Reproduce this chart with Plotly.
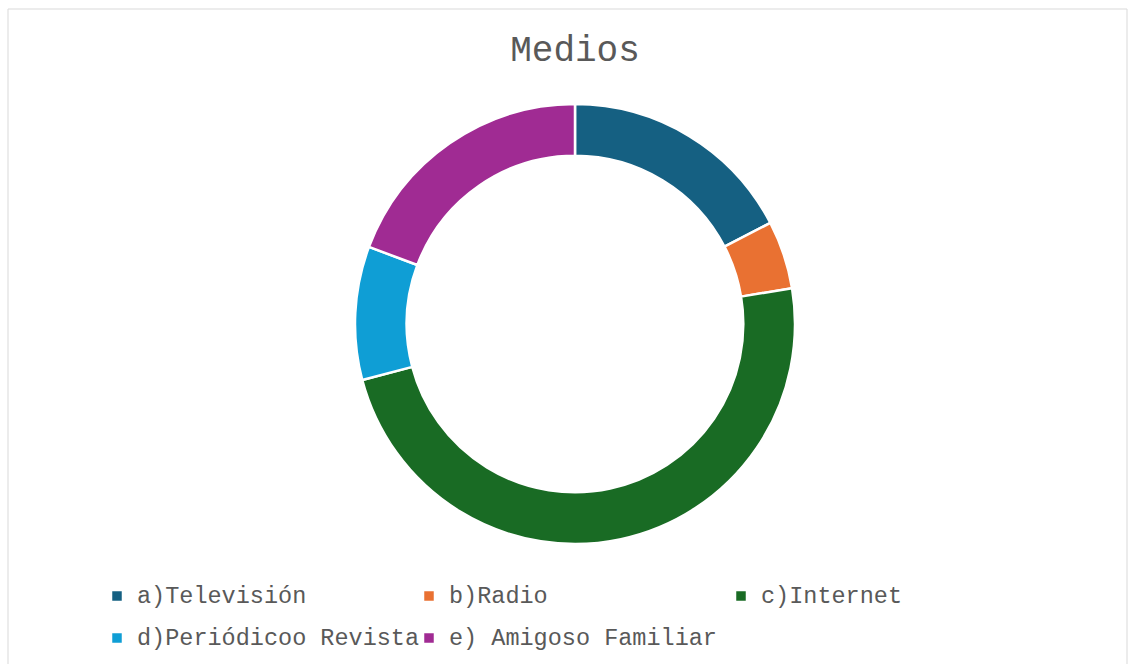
import plotly.graph_objects as go

labels = ["a)Televisión", "b)Radio", "c)Internet", "d)Periódicoo Revista", "e) Amigoso Familiar"]
values = [17.4, 5.0, 48.5, 9.8, 19.3]
colors = ["#156082", "#E97132", "#196B24", "#0F9ED5", "#A02B93"]
title_text = "Medios"

W, H = 1134, 664
FONT = "Courier New, Liberation Mono, monospace"

legend_labels = [
    '<span style="font-size:23.5px;baseline-shift:5px">%s</span>' % l for l in labels
]

fig = go.Figure(
    go.Pie(
        labels=legend_labels,
        values=values,
        hole=0.765,
        sort=False,
        direction="clockwise",
        rotation=0,
        textinfo="none",
        hoverinfo="label+percent",
        marker=dict(colors=colors, line=dict(color="white", width=2.5)),
        domain=dict(x=[(575 - 220) / W, (575 + 220) / W], y=[(H - 544) / H, (H - 104) / H]),
    )
)

fig.update_layout(
    width=W,
    height=H,
    margin=dict(l=0, r=0, t=0, b=0),
    paper_bgcolor="white",
    plot_bgcolor="white",
    font=dict(family=FONT, color="#595959"),
    title=dict(
        text=title_text,
        font=dict(family=FONT, size=36, color="#595959"),
        x=575 / W,
        xanchor="center",
        xref="paper",
        y=1 - 48 / H,
        yanchor="middle",
        yref="container",
    ),
    legend=dict(
        orientation="h",
        x=97 / W,
        xanchor="left",
        y=(H - 570) / H,
        yanchor="top",
        entrywidth=267,
        entrywidthmode="pixels",
        font=dict(family=FONT, size=30, color="#595959"),
        bgcolor="rgba(0,0,0,0)",
        traceorder="normal",
    ),
    showlegend=True,
    shapes=[
        dict(
            type="rect",
            xref="paper",
            yref="paper",
            x0=8 / W,
            x1=1127 / W,
            y0=-0.05,
            y1=(H - 9) / H,
            line=dict(color="#D9D9D9", width=1),
            fillcolor="rgba(0,0,0,0)",
            layer="below",
        )
    ],
)

fig.write_html(
    "out.html",
    config={"displayModeBar": False},
    post_script="document.body.style.margin='0';document.body.style.overflow='hidden';",
)
